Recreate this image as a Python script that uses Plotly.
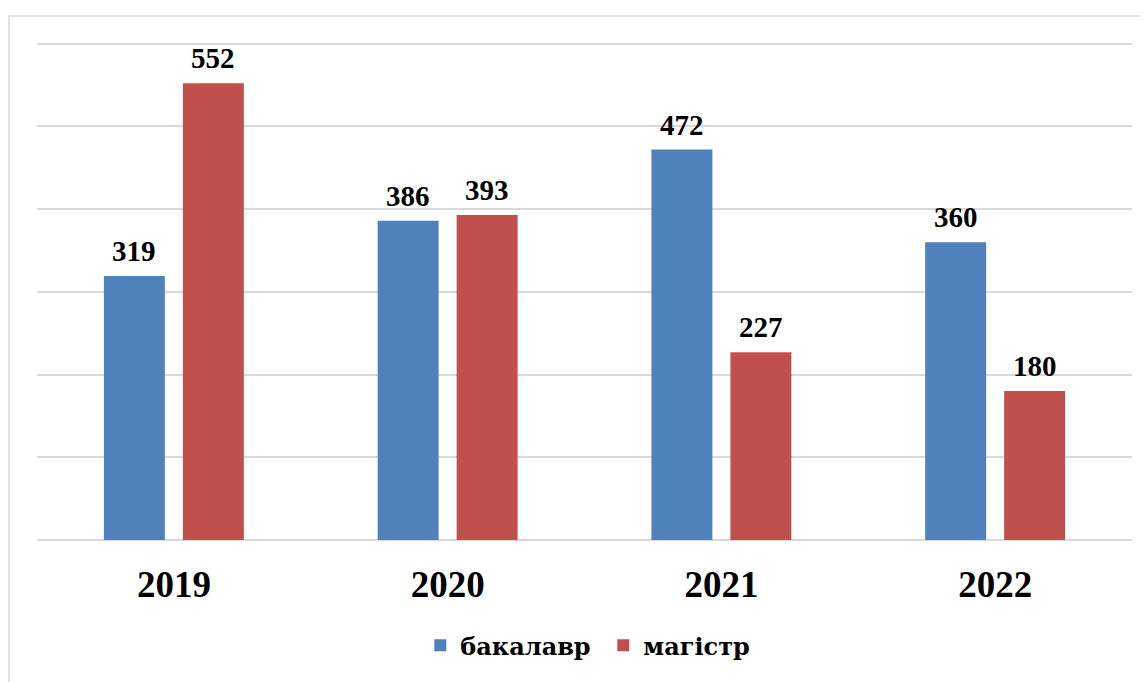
import plotly.graph_objects as go

years = ["2019", "2020", "2021", "2022"]
bachelor = [319, 386, 472, 360]
master = [552, 393, 227, 180]
series_names = ["бакалавр", "магістр"]
colors = ["#4F81BD", "#C0504D"]

FONT = "Liberation Serif, Times New Roman, serif"
LEG_FONT = "DejaVu Serif, serif"

fig = go.Figure()
for k, (name, vals, col) in enumerate(zip(series_names, [bachelor, master], colors)):
    pad = "&nbsp;" if k == 0 else ""
    fig.add_trace(go.Bar(
        x=years, y=vals, name=f"<b>{name}</b>{pad}",
        marker=dict(color=col, line=dict(width=0)),
    ))

# data labels (category index positions on the category axis)
for vals, shift in [(bachelor, -39.5), (master, 39.5)]:
    for i, v in enumerate(vals):
        fig.add_annotation(x=i, y=v, xref="x", yref="y", text=f"<b>{v}</b>", showarrow=False,
                           xshift=shift, yshift=7, yanchor="bottom",
                           font=dict(family=FONT, size=29, color="#000000"))

# outer border (left and top visible)
fig.add_shape(type="rect", xref="paper", yref="paper",
              x0=-0.0256, x1=1.03, y0=-0.40, y1=1.052,
              line=dict(color="#D9D9D9", width=1.5), fillcolor="rgba(0,0,0,0)", layer="below")

fig.update_layout(
    width=1140, height=674,
    margin=dict(l=29, r=16, t=34, b=142, autoexpand=False),
    paper_bgcolor="white", plot_bgcolor="white",
    barmode="group", bargap=0.423, bargroupgap=0.228,
    font=dict(family=FONT, color="#000000"),
    showlegend=True,
    legend=dict(orientation="h", x=0.503, xanchor="center", y=-0.212, yanchor="middle",
                font=dict(family=LEG_FONT, size=24, color="#000000"),
                traceorder="normal"),
    xaxis=dict(type="category", range=[-0.5, 3.5], autorange=False, automargin=False,
               showgrid=False, showline=False, ticks="outside", ticklen=12,
               tickcolor="rgba(0,0,0,0)",
               tickfont=dict(family=FONT, size=37, color="#000000"), tickprefix="<b>", ticksuffix="</b>"),
    yaxis=dict(range=[0, 602], autorange=False, automargin=False, dtick=100,
               showgrid=True, gridcolor="#D9D9D9", gridwidth=1.5,
               zeroline=True, zerolinecolor="#D9D9D9", zerolinewidth=1.5,
               showticklabels=False, showline=False),
)

fig.write_html("out.html")
